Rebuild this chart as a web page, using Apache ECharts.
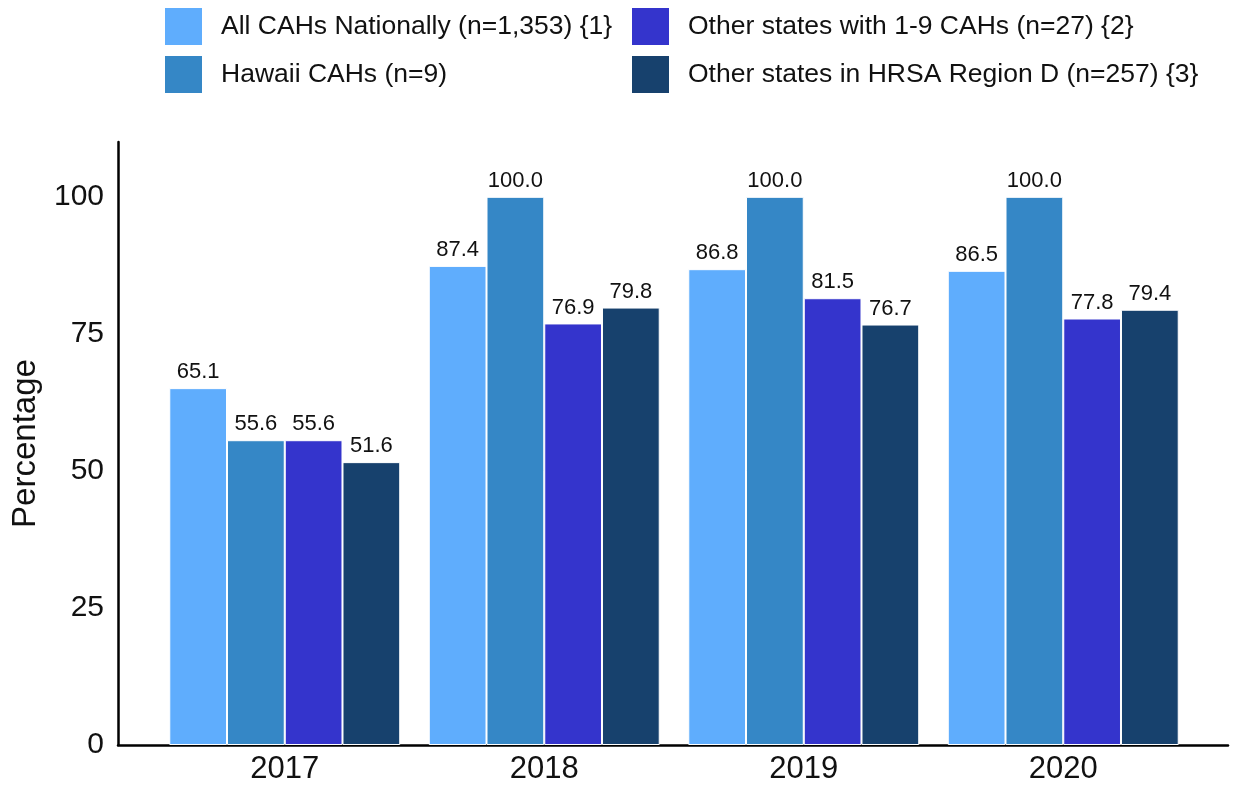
<!DOCTYPE html>
<html><head><meta charset="utf-8">
<script src="https://cdn.jsdelivr.net/npm/echarts@6/dist/echarts.min.js"></script>
<style>html,body{margin:0;padding:0;background:#fff}#c{width:1235px;height:786px}</style>
</head><body><div id="c"></div>
<script>
const categories = ['2017', '2018', '2019', '2020'];
const seriesNames = [
  'All CAHs Nationally (n=1,353) {1}',
  'Hawaii CAHs (n=9)',
  'Other states with 1-9 CAHs (n=27) {2}',
  'Other states in HRSA Region D (n=257) {3}'
];
const allNational = [65.1, 87.4, 86.8, 86.5];
const hawaii = [55.6, 100.0, 100.0, 100.0];
const otherSmall = [55.6, 76.9, 81.5, 77.8];
const otherRegionD = [51.6, 79.8, 76.7, 79.4];
const yTicks = [0, 25, 50, 75, 100];
const colors = ['#5fadfd', '#3587c6', '#3434cc', '#17416d'];

const values = [allNational, hawaii, otherSmall, otherRegionD];
const font = 'Liberation Sans, Arial, sans-serif';

const chart = echarts.init(document.getElementById('c'), null, {renderer: 'canvas'});
const series = seriesNames.map((n, i) => ({
  name: n, type: 'bar', xAxisIndex: 0, yAxisIndex: 0,
  data: values[i],
  barGap: '0%', barCategoryGap: '11%',
  itemStyle: {color: colors[i], borderColor: '#fff', borderWidth: 1},
  label: {show: true, position: 'top', distance: 5, fontSize: 22, color: '#111', fontFamily: font,
    formatter: p => p.value.toFixed(1)}
}));
const legendCommon = {orient: 'vertical', itemWidth: 39, itemHeight: 39, itemGap: 7,
  icon: 'rect', textStyle: {fontSize: 26.5, fontFamily: font, color: '#111', padding: [0,0,0,13]}};
chart.setOption({
  animation: false,
  color: colors,
  legend: [
    Object.assign({}, legendCommon, {left: 158, top: 1, data: [seriesNames[0], seriesNames[1]]}),
    Object.assign({}, legendCommon, {left: 625, top: 1, data: [seriesNames[2], seriesNames[3]]})
  ],
  grid: [
    {left: 155, right: 42, top: 142, bottom: 41, containLabel: false, outerBoundsMode: 'none'},
    {left: 118, right: 7, top: 142, bottom: 41, containLabel: false, outerBoundsMode: 'none'}
  ],
  xAxis: [
    {type: 'category', gridIndex: 0, data: categories,
     axisLine: {show: false}, axisTick: {show: false},
     axisLabel: {fontSize: 31, color: '#111', fontFamily: font, margin: 9}},
    {type: 'value', gridIndex: 1, min: 0, max: 1, position: 'bottom',
     axisLine: {show: true, lineStyle: {color: '#000', width: 2.5}},
     axisTick: {show: false}, axisLabel: {show: false}, splitLine: {show: false}}
  ],
  yAxis: [
    {type: 'value', gridIndex: 0, min: 0, max: 110, show: false, splitLine: {show: false}},
    {type: 'value', gridIndex: 1, min: 0, max: 110, interval: 25,
     name: 'Percentage', nameLocation: 'middle', nameGap: 76,
     nameTextStyle: {fontSize: 33, color: '#111', fontFamily: font},
     axisLine: {show: true, lineStyle: {color: '#000', width: 2.5}},
     axisTick: {show: false}, splitLine: {show: false},
     axisLabel: {fontSize: 30, color: '#111', fontFamily: font, margin: 14,
       formatter: v => yTicks.includes(v) ? String(v) : ''}}
  ],
  series: series
});
</script></body></html>
